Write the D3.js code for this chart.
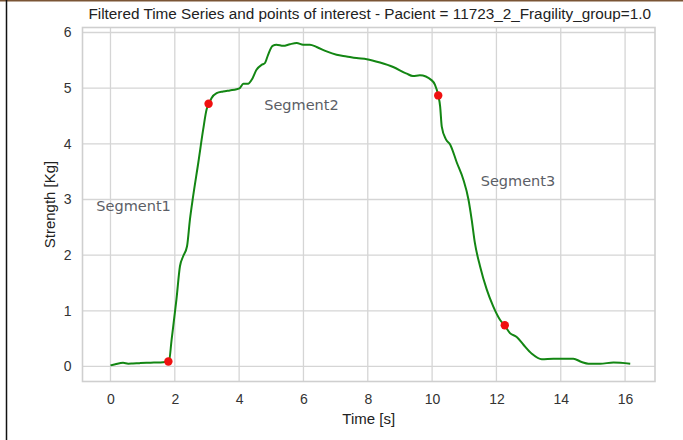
<!DOCTYPE html>
<html>
<head>
<meta charset="utf-8">
<script src="https://cdn.jsdelivr.net/npm/d3@7"></script>
<style>
  body { margin: 0; background: #fff; }
  svg { display: block; }
</style>
</head>
<body>
<div id="chart"></div>
<script>
// filtered time series
var timeVals = [0.00, 0.15, 0.39, 0.55, 0.70, 0.90, 1.12, 1.35, 1.64, 1.76, 1.82, 1.90, 2.05, 2.16, 2.26, 2.38,
    2.47, 2.57, 2.73, 2.88, 2.99, 3.06, 3.14, 3.30, 3.50, 3.71, 3.92, 4.02, 4.13, 4.28, 4.39, 4.54, 4.70,
    4.80, 4.90, 5.04, 5.16, 5.37, 5.58, 5.79, 5.99, 6.20, 6.41, 6.72, 7.03, 7.34, 7.65, 7.97, 8.38, 8.79,
    9.21, 9.40, 9.62, 9.99, 10.09, 10.19, 10.25, 10.30, 10.43, 10.56, 10.77, 10.97, 11.13, 11.23, 11.33,
    11.49, 11.70, 11.90, 12.11, 12.25, 12.42, 12.63, 12.84, 13.10, 13.41, 13.77, 14.08, 14.39, 14.65,
    14.86, 15.22, 15.64, 16.16];
var strengthVals = [0.02, 0.04, 0.066, 0.05, 0.054, 0.06, 0.066, 0.07, 0.077, 0.09, 0.10, 0.48, 1.20, 1.80,
    1.98, 2.16, 2.64, 3.06, 3.66, 4.25, 4.62, 4.72, 4.82, 4.91, 4.94, 4.96, 4.98, 5.00, 5.08, 5.08, 5.15,
    5.33, 5.42, 5.45, 5.60, 5.76, 5.78, 5.76, 5.79, 5.81, 5.78, 5.78, 5.74, 5.66, 5.60, 5.57, 5.54, 5.52,
    5.46, 5.38, 5.26, 5.22, 5.23, 5.14, 5.06, 4.87, 4.67, 4.31, 4.08, 3.99, 3.66, 3.36, 3.00, 2.64, 2.22,
    1.80, 1.38, 1.08, 0.84, 0.74, 0.60, 0.53, 0.39, 0.23, 0.13, 0.14, 0.14, 0.14, 0.08, 0.05, 0.05, 0.07, 0.05];

// points of interest
var poiTime = [1.80, 3.05, 10.19, 12.26];
var poiStrength = [0.09, 4.72, 4.87, 0.74];

// segment labels (data coords)
var segNames = ["Segment1", "Segment2", "Segment3"];
var segTime = [-0.44, 4.78, 11.51];
var segStrength = [2.79, 4.61, 3.25];

var xTicks = [0, 2, 4, 6, 8, 10, 12, 14, 16];
var yTicks = [0, 1, 2, 3, 4, 5, 6];

var svgWidth = 683;
var svgHeight = 440;

var plotLeft = 82.5, plotRight = 655, plotTop = 27.5, plotBottom = 381.5;

var svg = d3.select("#chart").append("svg")
    .attr("width", svgWidth)
    .attr("height", svgHeight);

svg.append("rect").attr("width", svgWidth).attr("height", svgHeight).attr("fill", "#fff");

var x = d3.scaleLinear().domain([-0.87, 16.93]).range([plotLeft, plotRight]);
var y = d3.scaleLinear().domain([-0.27, 6.09]).range([plotBottom, plotTop]);

// grid lines
var grid = svg.append("g");
grid.selectAll(".gx").data(xTicks).enter().append("line")
    .attr("x1", d => x(d)).attr("x2", d => x(d))
    .attr("y1", plotTop).attr("y2", plotBottom)
    .attr("stroke", "#d5d5d5").attr("stroke-width", 1.3);
grid.selectAll(".gy").data(yTicks).enter().append("line")
    .attr("x1", plotLeft).attr("x2", plotRight)
    .attr("y1", d => y(d)).attr("y2", d => y(d))
    .attr("stroke", "#d5d5d5").attr("stroke-width", 1.3);

// frame
svg.append("rect")
    .attr("x", plotLeft).attr("y", plotTop)
    .attr("width", plotRight - plotLeft).attr("height", plotBottom - plotTop)
    .attr("fill", "none").attr("stroke", "#cfcfcf").attr("stroke-width", 1.6);

// axes, no tick marks
var bottomAxis = d3.axisBottom(x).tickValues(xTicks).tickFormat(d3.format("d")).tickSize(0).tickPadding(13);
var leftAxis = d3.axisLeft(y).tickValues(yTicks).tickFormat(d3.format("d")).tickSize(0).tickPadding(11);

var xAxis = svg.append("g")
    .attr("transform", `translate(0, ${plotBottom})`)
    .call(bottomAxis);
var yAxis = svg.append("g")
    .attr("transform", `translate(${plotLeft}, 0)`)
    .call(leftAxis);

[xAxis, yAxis].forEach(function(a) {
    a.select(".domain").remove();
    a.selectAll("text")
        .attr("fill", "#333")
        .style("font-family", "'Liberation Sans', Arial, sans-serif")
        .style("font-size", "14px");
});

// series line
var line = d3.line()
    .x((d, i) => x(timeVals[i]))
    .y((d, i) => y(strengthVals[i]))
    .curve(d3.curveMonotoneX);

svg.append("path")
    .datum(strengthVals)
    .attr("d", line)
    .attr("fill", "none")
    .attr("stroke", "#138613")
    .attr("stroke-width", 2)
    .attr("stroke-linejoin", "round");

// points of interest
svg.selectAll(".poi").data(poiTime).enter().append("circle")
    .attr("cx", d => x(d))
    .attr("cy", (d, i) => y(poiStrength[i]))
    .attr("r", 4.2)
    .attr("fill", "#f01010");

// segment labels
svg.selectAll(".seg").data(segNames).enter().append("text")
    .attr("x", (d, i) => x(segTime[i]))
    .attr("y", (d, i) => y(segStrength[i]))
    .attr("fill", "#5b5e66")
    .style("font-family", "'DejaVu Sans', sans-serif")
    .style("font-size", "14.5px")
    .text(d => d);

// title and axis labels
svg.append("text")
    .attr("x", (plotLeft + plotRight) / 2 + 1)
    .attr("y", 19)
    .attr("text-anchor", "middle")
    .attr("fill", "#222")
    .style("font-family", "'Liberation Sans', Arial, sans-serif")
    .style("font-size", "15.3px")
    .text("Filtered Time Series and points of interest - Pacient = 11723_2_Fragility_group=1.0");

svg.append("text")
    .attr("x", (plotLeft + plotRight) / 2)
    .attr("y", 424)
    .attr("text-anchor", "middle")
    .attr("fill", "#222")
    .style("font-family", "'Liberation Sans', Arial, sans-serif")
    .style("font-size", "15px")
    .text("Time [s]");

svg.append("text")
    .attr("transform", `translate(55, ${(plotTop + plotBottom) / 2}) rotate(-90)`)
    .attr("text-anchor", "middle")
    .attr("fill", "#222")
    .style("font-family", "'Liberation Sans', Arial, sans-serif")
    .style("font-size", "15px")
    .text("Strength [Kg]");

// outer image border bits
svg.append("line")
    .attr("x1", 0).attr("x2", svgWidth).attr("y1", 0.75).attr("y2", 0.75)
    .attr("stroke", "#7a5535").attr("stroke-width", 1.5);
svg.append("line")
    .attr("x1", 6.5).attr("x2", 6.5).attr("y1", 0).attr("y2", svgHeight)
    .attr("stroke", "#111").attr("stroke-width", 1.5);
</script>
</body>
</html>
